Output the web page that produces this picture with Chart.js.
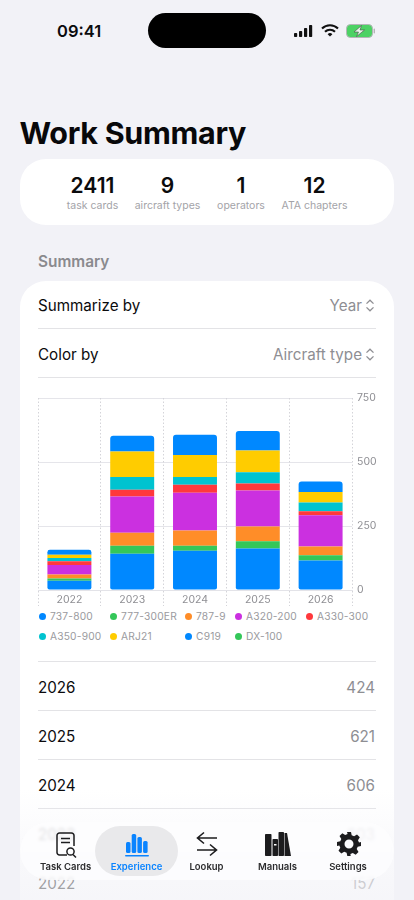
<!DOCTYPE html>
<html><head><meta charset="utf-8">
<style>
*{box-sizing:border-box;margin:0;padding:0}
html,body{width:414px;height:900px;overflow:hidden;background:#f2f2f7;font-family:Inter,"Noto Sans",sans-serif;-webkit-font-smoothing:antialiased}
.a{position:absolute;white-space:nowrap}
.card{position:absolute;background:#fff;left:20px;width:374px}
.hr{position:absolute;left:38px;width:338px;height:1px;background:#e3e3e6}
.row{font-size:15.2px;color:#0b0b0d;transform:translateY(-50%)}
.val{font-size:15.2px;color:#8e8e93;right:39px;transform:translateY(-50%)}
.num{font-size:21px;font-weight:600;color:#0b0b0d;transform:translateX(-50%);top:174px;line-height:24px}
.lab{font-size:10.5px;color:#a3a3a8;transform:translateX(-50%);top:199px;line-height:13px}
.leg{font-size:10.2px;color:#9a9a9e;letter-spacing:.2px;line-height:12px}
.dot{position:absolute;width:7px;height:7px;border-radius:50%}
.tab{position:absolute;top:861px;font-size:9.5px;font-weight:600;color:#2c2c2e;transform:translateX(-50%);white-space:nowrap;line-height:12px}
svg{position:absolute;overflow:visible}
</style>
</head><body>
<div class="a" style="left:57px;top:21px;font-size:16.5px;font-weight:600;color:#0b0b0d;line-height:20px">09:41</div>
<div class="a" style="left:148px;top:13px;width:118px;height:35px;border-radius:18px;background:#000"></div>
<svg style="left:293px;top:24px" width="22" height="14" viewBox="0 0 22 14" fill="#111"><rect x="1" y="9" width="3.2" height="4" rx=".8"/><rect x="6" y="7" width="3.2" height="6" rx=".8"/><rect x="11" y="4" width="3.2" height="9" rx=".8"/><rect x="16" y="1" width="3.2" height="12" rx=".8"/></svg>
<svg style="left:320px;top:23px" width="20" height="15" viewBox="0 0 20 15" fill="none" stroke="#111" stroke-width="2.1"><path d="M2 5.5a11.5 11.5 0 0 1 16 0"/><path d="M5 8.8a7.2 7.2 0 0 1 10 0"/><path d="M10 13.5l-2.4-2.3a3.4 3.4 0 0 1 4.8 0z" fill="#111" stroke="none"/></svg>
<svg style="left:346px;top:24px" width="30" height="14" viewBox="0 0 30 14"><rect x=".5" y=".5" width="26" height="13" rx="4" fill="#4cd264" stroke="#b5b5b8"/><rect x="27.6" y="4.5" width="1.4" height="5" rx=".7" fill="#b5b5b8"/><path d="M15.5 1.5L8 8h4.500l-2 4.500L18.500 6h-4.500z" fill="#e8f8ea" stroke="#4a4a4a" stroke-width=".6"/></svg>

<div class="a" style="left:19.5px;top:113px;font-size:30.5px;font-weight:700;color:#08080a;line-height:40px;letter-spacing:-.3px">Work Summary</div>
<div class="card" style="top:159px;height:66px;border-radius:26px"></div>
<div class="a num" style="left:92.5px">2411</div><div class="a lab" style="left:92.5px">task cards</div>
<div class="a num" style="left:167.5px">9</div><div class="a lab" style="left:167.5px">aircraft types</div>
<div class="a num" style="left:241px">1</div><div class="a lab" style="left:241px">operators</div>
<div class="a num" style="left:314.5px">12</div><div class="a lab" style="left:314.5px">ATA chapters</div>

<div class="a" style="left:38px;top:252px;font-size:15.4px;font-weight:600;color:#8a8a8e;line-height:19px">Summary</div>
<div class="card" style="top:281px;height:640px;border-radius:26px 26px 0 0"></div>
<div class="a row" style="left:38px;top:305px">Summarize by</div>
<div class="a val" style="top:305px;right:52px">Year</div>
<svg style="left:365px;top:299px" width="10" height="13" viewBox="0 0 10 13" fill="none" stroke="#8e8e93" stroke-width="1.3"><path d="M1.5 4.6L5 1.2l3.5 3.4M1.5 8.4L5 11.8l3.5-3.4"/></svg>
<div class="hr" style="top:328px"></div>
<div class="a row" style="left:38px;top:354px">Color by</div>
<div class="a val" style="top:354px;right:52px">Aircraft type</div>
<svg style="left:365px;top:348px" width="10" height="13" viewBox="0 0 10 13" fill="none" stroke="#8e8e93" stroke-width="1.3"><path d="M1.5 4.6L5 1.2l3.5 3.4M1.5 8.4L5 11.8l3.5-3.4"/></svg>
<div class="hr" style="top:377px"></div>

<div style="position:absolute;left:30px;top:389.7px;width:364px;height:216px"><canvas id="c"></canvas></div>
<div id="legend"></div>

<div class="hr" style="top:661px"></div>
<div id="rows"></div>

<div style="position:absolute;left:0;top:790px;width:414px;height:110px;background:linear-gradient(rgba(242,242,247,0),rgba(242,242,247,.55) 70%,rgba(242,242,247,.7))"></div>
<div style="position:absolute;left:20px;top:822px;width:374px;height:58px;border-radius:29px;background:rgba(253,253,254,.84);backdrop-filter:blur(1.5px)"></div>
<div style="position:absolute;left:95px;top:826px;width:83px;height:50px;border-radius:25px;background:#e9e9eb"></div>

<svg style="left:56px;top:832px" width="22" height="26" viewBox="0 0 22 26" fill="none" stroke="#1c1c1e" stroke-width="1.5"><path d="M11 23H3.5A2.5 2.5 0 0 1 1 20.500V3.500A2.500 2.500 0 0 1 3.500 1h12A2.500 2.500 0 0 1 18 3.500V14"/><path d="M5 6.500h9M5 10.500h9"/><circle cx="14.500" cy="19.500" r="3.600"/><path d="M17 22.500l3 3"/></svg>
<svg style="left:125px;top:833px" width="24" height="25" viewBox="0 0 24 25" fill="#0a84ff"><rect x="1" y="9" width="4.500" height="11" rx="1.500"/><rect x="6.700" y="1" width="4.500" height="19" rx="1.500"/><rect x="12.400" y="4" width="4.500" height="16" rx="1.500"/><rect x="18.100" y="8" width="4.500" height="12" rx="1.500"/><rect x="0" y="22" width="24" height="1.600" rx=".8"/></svg>
<svg style="left:196px;top:831px" width="22" height="26" viewBox="0 0 22 26" fill="none" stroke="#1c1c1e" stroke-width="1.6"><path d="M21 7H2M8 1.500L1.500 7 8 12.500"/><path d="M1 19h19M14 13.500l6.500 5.500L14 24.500"/></svg>
<svg style="left:264px;top:832px" width="27" height="24" viewBox="0 0 27 24" fill="#1c1c1e"><rect x="1" y="2" width="6.500" height="22" rx=".8"/><rect x="8.500" y="7" width="5.500" height="17" rx=".8"/><rect x="14.500" y="0" width="5.500" height="24" rx=".8"/><path d="M20.500 1h2.500l4 23h-6.500z"/><rect x="10" y="12" width="2.500" height="1.500" fill="#fff"/></svg>
<svg style="left:337px;top:832px" width="24" height="24" viewBox="0 0 24 24"><path fill="#1c1c1e" fill-rule="evenodd" d="M10 0h4l.7 3.300 2.400 1 2.900-1.800 2.800 2.800-1.800 2.900 1 2.400L24 10v4l-3.300.7-1 2.400 1.800 2.900-2.800 2.800-2.900-1.800-2.400 1L13.700 24h-3.400l-.7-3.300-2.400-1-2.900 1.800-2.800-2.800 1.800-2.900-1-2.400L0 14v-4l3.300-.7 1-2.400L2.500 4 5.300 1.200l2.900 1.800 2.400-1zM12 7.500a4.500 4.500 0 1 0 0 9 4.500 4.500 0 0 0 0-9z"/></svg>
<div class="tab" style="left:65.500px">Task Cards</div>
<div class="tab" style="left:136.500px;color:#0a84ff">Experience</div>
<div class="tab" style="left:206.500px">Lookup</div>
<div class="tab" style="left:277.500px">Manuals</div>
<div class="tab" style="left:348px">Settings</div>

<script src="https://cdn.jsdelivr.net/npm/chart.js@4"></script>
<script>
const categories = ["2022","2023","2024","2025","2026"];
const seriesNames = ["737-800","777-300ER","787-9","A320-200","A330-300","A350-900","ARJ21","C919","DX-100"];
const seriesColors = ["#0088ff","#34c759","#ff8d28","#cb30e0","#ff383c","#00c3d0","#ffcc00","#0088ff","#34c759"];
const v737 = [36,142,153,162,115];
const v777 = [9,31,20,28,21];
const v787 = [16,51,59,58,34];
const vA320 = [37,141,148,141,122];
const vA330 = [14,27,31,27,16];
const vA350 = [13,49,30,44,34];
const vARJ21 = [13,100,86,85,41];
const vC919 = [19,62,79,76,41];
const vDX100 = [0,0,0,0,0];
const seriesValues = [v737,v777,v787,vA320,vA330,vA350,vARJ21,vC919,vDX100];
const yTicks = [0,250,500,750];
const listYears = ["2026","2025","2024","2023","2022"];
const listTotals = [424,621,606,603,157];

const legendColumns = [38.5,109.5,184.5,234.5,305.5];
const legendRows = [609.5,629.5];
const legendSlots = [[0,0],[1,0],[2,0],[3,0],[4,0],[0,1],[1,1],[2,1],[3,1]];
document.getElementById('legend').innerHTML = seriesNames.map((n,i)=>{
  const [c,r]=legendSlots[i];
  const dotX = legendColumns[c];
  const top = legendRows[r];
  return `<div class="dot" style="left:${dotX}px;top:${top+3}px;background:${seriesColors[i]}"></div><div class="a leg" style="left:${dotX+11.500}px;top:${top}px">${n}</div>`;
}).join('');

document.getElementById('rows').innerHTML = listYears.map((y,i)=>{
  const cy = 687+49*i;
  return `<div class="a row" style="left:38px;top:${cy}px">${y}</div><div class="a val" style="top:${cy}px">${listTotals[i]}</div><div class="hr" style="top:${cy+23}px"></div>`;
}).join('');

const last = 7;
new Chart(document.getElementById('c'),{
  type:'bar',
  data:{labels:categories,datasets:seriesNames.map((n,i)=>({
    label:n,data:seriesValues[i],backgroundColor:seriesColors[i],
    borderWidth:0,borderSkipped:false,
    borderRadius:i===0?{bottomLeft:2,bottomRight:2}:(i===last?{topLeft:3,topRight:3}:0),
    barPercentage:0.7,categoryPercentage:1
  }))},
  options:{
    responsive:true,maintainAspectRatio:false,animation:false,
    layout:{padding:{left:8,top:8,right:0,bottom:0}},
    plugins:{legend:{display:false},tooltip:{enabled:false}},
    scales:{
      x:{stacked:true,
        afterFit(s){s.height=16;s.paddingLeft=0;s.paddingRight=0},
        border:{display:true,color:'#e3e3e8',width:1,dash:[1.5,2]},
        grid:{display:true,offset:true,color:'#d4d4d9',tickColor:'#d4d4d9',tickBorderDash:[1.5,2],tickLength:16,lineWidth:1,z:0},
        ticks:{autoSkip:false,maxRotation:0,padding:-12,color:'#8e8e93',font:{family:'Inter',size:10.5}}},
      y:{stacked:true,position:'right',min:0,max:750,
        afterBuildTicks(s){s.ticks=yTicks.map(v=>({value:v}))},
        afterFit(s){s.width=42;s.paddingTop=0;s.paddingBottom=0},
        border:{display:false},
        grid:{color:'#e5e5ea',lineWidth:1,drawTicks:false},
        ticks:{padding:5,color:'#8e8e93',font:{family:'Inter',size:10.5}}}
    }
  }
});
</script>
</body></html>
